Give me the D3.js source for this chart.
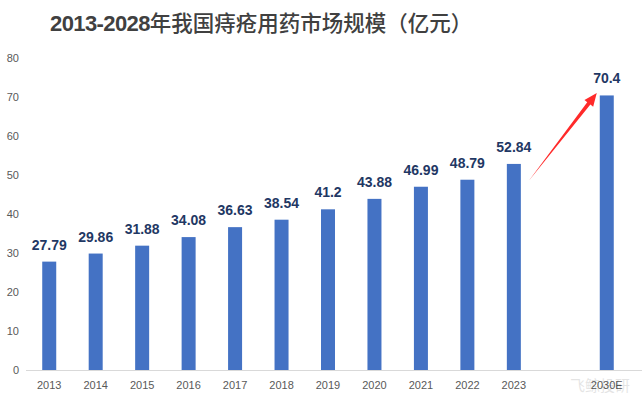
<!DOCTYPE html>
<html>
<head>
<meta charset="utf-8">
<script src="https://cdn.jsdelivr.net/npm/d3@7"></script>
<style>
  body { margin: 0; background: #fff; }
  svg { display: block; }
</style>
</head>
<body>
<script>
// data
var years = ["2013","2014","2015","2016","2017","2018","2019","2020","2021","2022","2023","","2030E"];
var values = [27.79, 29.86, 31.88, 34.08, 36.63, 38.54, 41.2, 43.88, 46.99, 48.79, 52.84, null, 70.4];
var yTicks = [0, 10, 20, 30, 40, 50, 60, 70, 80];

var width = 642, height = 400,
    plotLeft = 26, plotRight = 630,
    plotTop = 58, plotBottom = 370,
    barWidth = 14;

var svg = d3.select("body").append("svg")
    .attr("width", width)
    .attr("height", height);

// title
var title = svg.append("text")
    .attr("x", 50)
    .attr("y", 31)
    .attr("font-size", 22)
    .attr("fill", "#404040");
title.append("tspan")
    .attr("font-family", "'Liberation Sans', Arial, sans-serif")
    .attr("font-weight", "bold")
    .attr("letter-spacing", "-0.6")
    .text("2013-2028");
title.append("tspan")
    .attr("font-family", "'Noto Sans CJK SC', sans-serif")
    .attr("font-weight", 500)
    .attr("font-size", 21.5)
    .text("年我国痔疮用药市场规模（亿元）");

var x = d3.scaleBand()
    .domain(d3.range(years.length))
    .range([plotLeft, plotRight]);

var y = d3.scaleLinear()
    .domain([0, 80])
    .range([plotBottom, plotTop]);

// y tick labels
svg.append("g")
  .selectAll("text")
  .data(yTicks)
  .enter()
  .append("text")
    .attr("x", 19)
    .attr("y", function(d) { return y(d); })
    .attr("dy", ".35em")
    .attr("text-anchor", "end")
    .attr("font-family", "'Liberation Sans', Arial, sans-serif")
    .attr("font-size", 11)
    .attr("fill", "#595959")
    .text(function(d) { return d; });

// baseline
svg.append("line")
    .attr("x1", plotLeft)
    .attr("x2", width)
    .attr("y1", y(0) + 0.5)
    .attr("y2", y(0) + 0.5)
    .attr("stroke", "#d9d9d9");

var data = years.map(function(d, i) { return {label: d, value: values[i], i: i}; });
var withValue = data.filter(function(d) { return d.value != null; });

// bars
svg.append("g")
  .selectAll("rect")
  .data(withValue)
  .enter()
  .append("rect")
    .attr("x", function(d) { return x(d.i) + x.bandwidth() / 2 - barWidth / 2; })
    .attr("y", function(d) { return y(d.value); })
    .attr("width", barWidth)
    .attr("height", function(d) { return y(0) - y(d.value); })
    .attr("fill", "#4472c4");

// value labels
svg.append("g")
  .selectAll("text")
  .data(withValue)
  .enter()
  .append("text")
    .attr("x", function(d) { return x(d.i) + x.bandwidth() / 2; })
    .attr("y", function(d) { return y(d.value) - 12; })
    .attr("text-anchor", "middle")
    .attr("font-family", "'Liberation Sans', Arial, sans-serif")
    .attr("font-weight", "bold")
    .attr("font-size", 14)
    .attr("fill", "#1f3864")
    .text(function(d) { return d.value; });

// x labels
svg.append("g")
  .selectAll("text")
  .data(data)
  .enter()
  .append("text")
    .attr("x", function(d) { return x(d.i) + x.bandwidth() / 2; })
    .attr("y", 389)
    .attr("text-anchor", "middle")
    .attr("font-family", "'Liberation Sans', Arial, sans-serif")
    .attr("font-size", 11)
    .attr("fill", "#595959")
    .text(function(d) { return d.label; });

// red arrow from 2023 towards 2030E
var x0 = x(10) + x.bandwidth() / 2 + 15, y0 = y(48.5),
    x1 = x(12) + x.bandwidth() / 2 - 10, y1 = y(71);
var ang = Math.atan2(y1 - y0, x1 - x0),
    nx = -Math.sin(ang), ny = Math.cos(ang),
    headLen = 13, headW = 5.5, shaftW = 2;
var bx = x1 - headLen * Math.cos(ang), by = y1 - headLen * Math.sin(ang);
var arrow = [
  [x0, y0],
  [bx + nx * shaftW, by + ny * shaftW],
  [bx + nx * headW, by + ny * headW],
  [x1, y1],
  [bx - nx * headW, by - ny * headW],
  [bx - nx * shaftW, by - ny * shaftW]
];
svg.append("path")
    .attr("d", d3.line()(arrow) + "Z")
    .attr("fill", "#ff2a2a");

// watermark
svg.append("text")
    .attr("x", 570)
    .attr("y", 391)
    .attr("font-family", "'Noto Sans CJK SC', sans-serif")
    .attr("font-size", 15)
    .attr("fill", "#000")
    .attr("opacity", 0.1)
    .text("飞鲸投研");
</script>
</body>
</html>
